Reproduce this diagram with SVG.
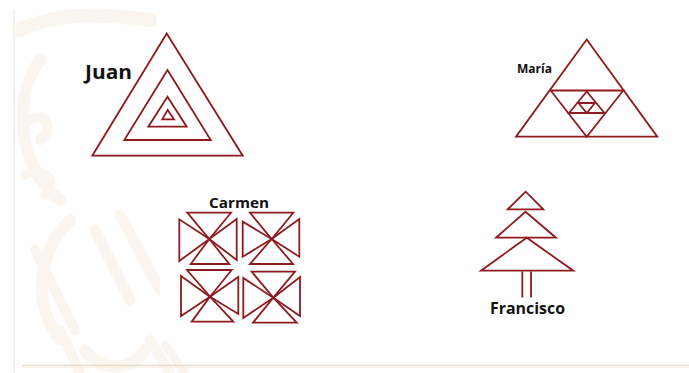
<svg xmlns="http://www.w3.org/2000/svg" width="689" height="373" viewBox="0 0 689 373">
<style>
.s{fill:none;stroke:#8e1b1f;stroke-width:1.8;stroke-linejoin:miter}
.t{font-family:"Open Sans","Liberation Sans",sans-serif;font-weight:bold;fill:#111}
.w{fill:none;stroke:#faf5ee;stroke-linecap:round}
</style>
<rect width="689" height="373" fill="#fff"/>
<g id="watermark">
<line x1="14" y1="10" x2="14" y2="373" stroke="#f4ede3" stroke-width="1.5"/>
<path class="w" stroke-width="14" d="M20 30 C60 10 110 15 150 20"/>
<path class="w" stroke-width="12" d="M40 60 C10 100 20 170 60 200"/>
<path class="w" stroke-width="10" d="M30 120 C45 110 55 130 40 140"/>
<path class="w" stroke-width="10" d="M25 175 C40 165 60 180 45 195"/>
<path class="w" stroke-width="12" d="M70 220 C40 250 30 300 60 340"/>
<path class="w" stroke-width="11" d="M95 230 L130 300"/>
<path class="w" stroke-width="11" d="M120 215 L160 290"/>
<path class="w" stroke-width="10" d="M35 250 L75 330"/>
<path class="w" stroke-width="10" d="M60 330 L80 373"/>
<path class="w" stroke-width="10" d="M150 340 L170 373"/>
<path class="w" stroke-width="12" d="M85 350 C100 372 130 372 145 350"/>
<path class="w" stroke-width="9" d="M165 345 L185 373"/>
</g>
<rect x="70" y="28" width="185" height="140" fill="#fff"/>
<rect x="160" y="185" width="170" height="145" fill="#fff"/>
<g id="juan">
<polygon class="s" points="166.7,33.5 92.3,155.7 242.7,155.7"/>
<polygon class="s" points="167.5,70 124.3,140 210.7,140"/>
<polygon class="s" points="167.5,96.7 148.3,126.7 186.7,126.7"/>
<polygon class="s" points="167.7,110 162.3,119.3 174,119.3"/>
<text class="t" x="85" y="79" font-size="19" textLength="47" lengthAdjust="spacingAndGlyphs">Juan</text>
</g>
<g id="maria">
<polygon class="s" points="586.7,39.5 516,136.7 657.3,136.7"/>
<polygon class="s" points="550.7,90.5 623.3,90.5 586.7,136.7"/>
<polygon class="s" points="586.7,91.5 569,113 604.5,113"/>
<polygon class="s" points="578.5,103 595,103 586.7,113"/>
<text class="t" x="517" y="73" font-size="12" textLength="35" lengthAdjust="spacingAndGlyphs">María</text>
</g>
<g id="carmen">
<text class="t" x="209" y="208" font-size="14" textLength="60" lengthAdjust="spacingAndGlyphs">Carmen</text>
<g id="c1">
<polygon class="s" points="187.3,212.7 231,212.7 209.3,239"/>
<polygon class="s" points="190.7,264 229.3,264 209.3,239"/>
<polygon class="s" points="179.3,219.3 179.3,261 209.3,239"/>
<polygon class="s" points="236.7,219 236.7,260 209.3,239"/>
</g>
<g id="c2">
<polygon class="s" points="250,212.7 293.3,212.7 271.7,239"/>
<polygon class="s" points="250,264 293,264 271.7,239"/>
<polygon class="s" points="242.7,221.7 242.7,256.7 271.7,239"/>
<polygon class="s" points="299.3,219 299.3,256.7 271.7,239"/>
</g>
<g id="c3">
<polygon class="s" points="187,270 231.7,270 210,296.7"/>
<polygon class="s" points="191.7,321.7 233.3,321.7 210,296.7"/>
<polygon class="s" points="181,276 181,316 210,296.7"/>
<polygon class="s" points="238.3,277 238.3,314 210,296.7"/>
</g>
<g id="c4">
<polygon class="s" points="251.7,271.7 295,271.7 273.3,297.7"/>
<polygon class="s" points="253,322.7 296.7,322.7 273.3,297.7"/>
<polygon class="s" points="243.3,278 243.3,318 273.3,297.7"/>
<polygon class="s" points="300,277 300,316 273.3,297.7"/>
</g>
</g>
<g id="francisco">
<polygon class="s" points="525.7,191.7 507.7,209.3 543.3,209.3"/>
<polygon class="s" points="525.5,211.7 496,237.7 556,237.7"/>
<polygon class="s" points="526.7,237.7 481,270.7 573.3,270.7"/>
<line class="s" x1="522.3" y1="271.5" x2="522.3" y2="297.5"/>
<line class="s" x1="531" y1="271.5" x2="531" y2="297.5"/>
<text class="t" x="490" y="314" font-size="15.5" textLength="75" lengthAdjust="spacingAndGlyphs">Francisco</text>
</g>
<line x1="22" y1="365.5" x2="689" y2="365.5" stroke="#e9dccb" stroke-width="1.6"/>
<line x1="22" y1="367.2" x2="689" y2="367.2" stroke="#f6efe6" stroke-width="1"/>
</svg>
